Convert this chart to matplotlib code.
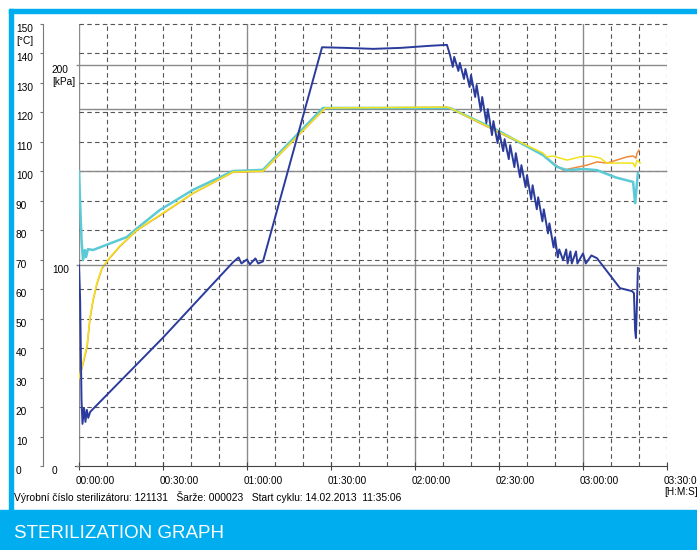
import matplotlib.pyplot as plt
import matplotlib.transforms as mtransforms

# time in minutes from cycle start
press_t = [0.0, 0.4, 0.9, 1.25, 1.8, 2.3, 2.8, 3.3, 4.0, 30.0, 55.0,
           57.0, 58.0, 60.0, 61.0, 63.0, 64.0, 65.7, 86.8, 95.0, 105.0, 115.0, 125.0, 131.4,
           132.5, 133.5, 134.0, 135.5, 136.0, 137.5, 138.0, 139.5, 140.0, 141.5, 142.0, 143.5,
           144.0, 145.5, 146.0, 147.5, 148.0, 149.5, 150.0, 151.5, 152.0, 153.5, 154.0, 155.5,
           156.0, 157.5, 158.0, 159.5, 160.0, 161.5, 162.0, 163.5, 164.0, 165.5, 166.0, 167.5,
           168.0, 169.5, 170.0, 171.0, 171.5, 172.9, 174.0, 174.5, 175.5, 176.0, 177.5, 178.0,
           180.0, 181.0, 183.0, 185.0, 186.1, 193.2, 197.5, 198.2, 198.6, 198.9, 199.3, 199.6]
press_kpa = [100, 83, 33, 21, 29, 22, 28, 24, 27, 64, 101.6,
             104, 101, 103, 100.5, 103.5, 101, 102, 208.8, 208.5, 208, 208.5, 209.5, 210,
             205, 199, 204, 197, 201, 193, 198, 189, 195, 184, 190, 177,
             184, 171, 178, 165, 172, 161, 167, 157, 163, 153, 160, 149,
             156, 144, 150, 139, 145, 133, 140, 128, 134, 122, 128, 116,
             121, 109, 114, 104, 108, 102.6, 108, 101, 107, 101, 107, 101,
             106, 101, 105, 103.6, 101.6, 88.7, 87.2, 86.2, 67.8, 63.8, 82.7, 98.7]

cyan_t = [0.0, 0.36, 0.9, 1.43, 2.1, 2.5, 3.2, 5.0, 17.1, 20.0, 28.9, 40.7, 55.0, 65.7, 87.1,
          131.8, 132.5, 149.3, 165.7, 170.7, 174.3, 180.0, 185.0, 191.8, 197.9, 198.6, 198.9, 199.6]
cyan_c = [100, 90.3, 76.7, 69.9, 73.3, 70.9, 73.6, 73.3, 77.7, 80.1, 86.9, 93.7, 100.1, 100.5, 121.5,
          121.5, 121.5, 114.0, 105.5, 101.5, 100.4, 100.8, 100.4, 97.9, 96.4, 89.2, 92.0, 99.4]

yellow_t = [0.0, 1.4, 2.9, 3.9, 5.0, 6.4, 8.2, 11.1, 14.6, 20.7, 28.9, 40.7, 55.0, 65.7, 87.9,
            131.4, 132.5, 149.3, 165.7, 167.1, 169.3, 174.3, 178.9, 182.5, 186.1, 188.6, 197.9,
            198.6, 199.3, 200.4]
yellow_c = [29.9, 35.0, 41.0, 50.2, 56.3, 62.1, 67.2, 70.9, 74.7, 80.1, 85.2, 92.6, 99.8, 100.1, 121.5,
            121.8, 121.5, 113.7, 106.2, 104.9, 105.2, 103.8, 104.9, 105.2, 104.5, 102.8, 102.8,
            101.5, 103.8, 102.8]

orange_t = [0.0, 1.4, 2.9, 3.9, 5.0, 6.4, 8.2, 11.1, 14.6, 20.7, 28.9, 40.7, 55.0, 65.7, 87.9,
            131.4, 132.5, 149.3, 165.7, 169.3, 172.9, 176.4, 181.4, 185.0, 188.6, 195.7, 197.9,
            198.9, 199.3, 200.0]
orange_c = [29.5, 34.5, 40.5, 49.8, 56.0, 61.8, 67.0, 70.7, 74.5, 80.0, 85.0, 92.5, 99.7, 100.0, 121.4,
            121.7, 121.4, 113.5, 105.8, 102.8, 100.4, 101.1, 102.1, 103.2, 102.8, 104.9, 105.2,
            104.5, 106.2, 107.2]

time_ticks = [0, 30, 60, 90, 120, 150, 180, 210]
time_labels = ['00:00:00', '00:30:00', '01:00:00', '01:30:00', '02:00:00', '02:30:00',
               '03:00:00', '03:30:00\n[H:M:S]']
temp_ticks = list(range(0, 151, 10))
kpa_ticks = [0, 100, 200]

BLUE = '#00aeef'
GRID = '#555555'
SOLID = '#8a8a8a'
plt.rcParams['font.family'] = ['Liberation Sans', 'DejaVu Sans']

fig = plt.figure(figsize=(6.97, 5.5), dpi=100)
W, H = 697, 550
ax = fig.add_axes([79 / W, 84 / H, 588 / W, 442 / H])
ax.set_xlim(0, 210)
ax.set_ylim(0, 150)

# frame decoration
fig.patches.append(plt.Rectangle((9 / W, 1 - 13 / H), 1, 4 / H, transform=fig.transFigure,
                                 color=BLUE, zorder=0))
fig.patches.append(plt.Rectangle((9 / W, 40 / H), 4 / W, 1 - 49 / H, transform=fig.transFigure,
                                 color=BLUE, zorder=0))
fig.patches.append(plt.Rectangle((0, 0), 1, 40 / H, transform=fig.transFigure,
                                 color=BLUE, zorder=0))
fig.text(14 / W, 17 / H, 'STERILIZATION GRAPH', color='white', fontsize=13.5, va='center',
         family=['Liberation Sans Narrow', 'Liberation Sans', 'DejaVu Sans'])
fig.text(14 / W, 53 / H,
         'Výrobní číslo sterilizátoru: 121131   Šarže: 000023   Start cyklu: 14.02.2013  11:35:06',
         fontsize=7.4, va='center')

# grid
for t in range(0, 211, 10):
    if t % 60 == 0:
        ax.axvline(t, color=SOLID, lw=1.0, zorder=1)
    else:
        ax.axvline(t, color=GRID, lw=0.8, ls=(0, (4, 3)), zorder=1)
for c in range(10, 151, 10):
    ax.plot([0, 211], [c, c], color=GRID, lw=0.8, ls=(0, (4, 3)), clip_on=False, zorder=1)
for c in [100, 121]:
    ax.axhline(c, color=SOLID, lw=1.0, zorder=1)

for s in ['top', 'right']:
    ax.spines[s].set_visible(False)
ax.spines['bottom'].set_color('#444444')
ax.spines['bottom'].set_bounds(-1.4, 210)
ax.spines['left'].set_position(('outward', 26))
ax.spines['left'].set_color('#777777')

ax.set_xticks(time_ticks)
ax.set_xticklabels(time_labels, fontsize=7.2, ha='left', va='top')
ax.tick_params(axis='x', direction='inout', length=6, width=0.8, color='#444444', pad=4)
shift = mtransforms.ScaledTranslation(-3 / 100, 0, fig.dpi_scale_trans)
for lab in ax.get_xticklabels():
    lab.set_transform(lab.get_transform() + shift)
ax.set_yticks(temp_ticks)
ax.set_yticklabels(['%d' % v for v in temp_ticks[:-1]] + ['150\n[°C]'], fontsize=7.3,
                   ha='left', va='top')
ax.tick_params(axis='y', direction='out', length=2.2, width=0.8, color='#777777', pad=17.3)

ax.plot(orange_t, orange_c, color='#ef8a3c', lw=1.1, zorder=3)
ax.plot(cyan_t, cyan_c, color='#5cc9d6', lw=1.8, zorder=3)
ax.plot(yellow_t, yellow_c, color='#f2e21d', lw=1.1, zorder=4)

ax2 = ax.twinx()
ax2.set_ylim(0, 220.4)
for s in ['top', 'right', 'left', 'bottom']:
    ax2.spines[s].set_visible(False)
ax2.yaxis.tick_left()
ax2.set_yticks(kpa_ticks)
ax2.set_yticklabels(['0', '100', '200\n[kPa]'], fontsize=7.3, ha='left', va='top')
ax2.tick_params(axis='y', direction='out', length=2.2, width=1.0, color=SOLID, pad=17.3)
for p in [100, 200]:
    ax2.axhline(p, color=SOLID, lw=1.0, zorder=1)

ax2.plot(press_t, press_kpa, color='#2b3b9c', lw=1.4, zorder=5)

fig.savefig('out.png', dpi=100)
